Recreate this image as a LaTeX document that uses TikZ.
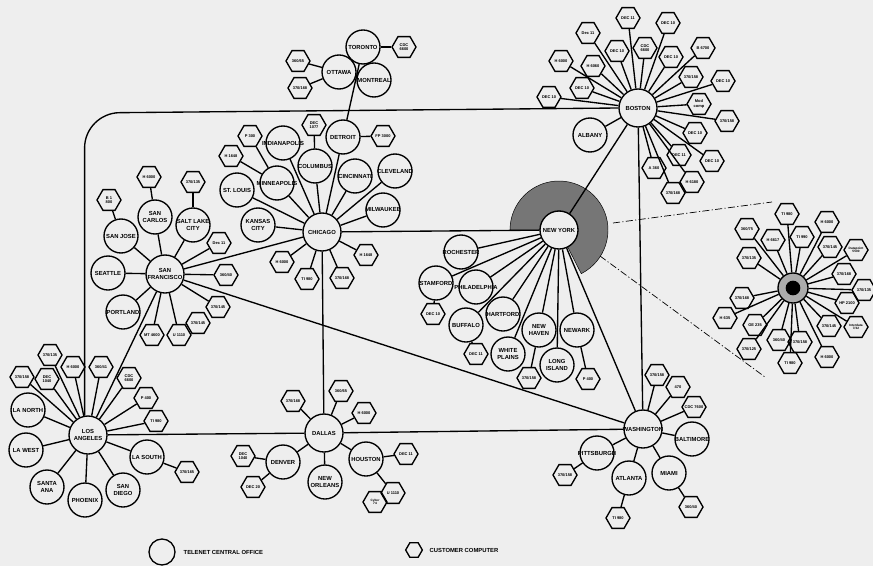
\documentclass[tikz,border=0pt]{standalone}
\usepackage{fontspec}
\setmainfont{Liberation Sans}
\usetikzlibrary{shapes.geometric}
\definecolor{paper}{RGB}{238,238,238}
\definecolor{shade}{RGB}{118,118,118}
\tikzset{
  ctext/.style={align=center, inner sep=0pt, font=\fontsize{5}{5.6}\selectfont\bfseries},
  ptext/.style={align=center, inner sep=0pt, font=\fontsize{3.4}{3.9}\selectfont\bfseries},
  city/.style={circle, draw, inner sep=0pt, minimum size=1.02cm, label={[ctext]center:{#1}}},
  hub/.style={city=#1, minimum size=1.14cm},
  hexshape/.style={regular polygon, regular polygon sides=6, draw, inner sep=0pt, minimum size=0.72cm},
  comp/.style={hexshape, label={[ptext]center:{#1}}},
  tinycomp/.style={hexshape, label={[ptext, font=\fontsize{2.7}{3.1}\selectfont\bfseries]center:{#1}}},
  dashdot/.style={dash pattern=on 6pt off 2pt on 1pt off 2pt, line width=0.6pt},
}

\begin{document}
\begin{tikzpicture}[x=0.03cm, y=-0.03cm, line width=1.15pt]
	\fill[paper] (0,0) rectangle (873,566);
	\useasboundingbox (0,0) rectangle (873,566);
	% shaded area round New York
	\filldraw[fill=shade, line width=0.4pt] ([shift={(63:19)}]559,230) -- ([shift={(63:49)}]559,230) arc[start angle=63, end angle=-180, radius=49] -- ([shift={(180:19)}]559,230) arc[start angle=-180, end angle=63, radius=19] -- cycle;
	% hubs
	\node[hub={CHICAGO}] (chi) at (322,232) {};
	\node[hub={SAN\\FRANCISCO}] (sf) at (165,274) {};
	\node[hub={LOS\\ANGELES}] (la) at (88,435) {};
	\node[hub={DALLAS}] (dal) at (324,433) {};
	\node[hub={NEW YORK}, fill=paper] (ny) at (559,230) {};
	\node[hub={BOSTON}] (bos) at (638,108) {};
	\node[hub={WASHINGTON}] (was) at (643,429) {};
	\node[circle, draw, fill=gray!65, minimum size=0.9cm, inner sep=0pt] (rc) at (793,288) {};
	\fill[black] (rc.center) circle (0.22cm);
	% central offices
	\node[city={TORONTO}] (tor) at (363,47) {};
	\node[city={OTTAWA}] (ott) at (339,72) {};
	\node[city={MONTREAL}] (mon) at (374,80) {};
	\node[city={DETROIT}] (det) at (343,137) {};
	\node[city={INDIANAPOLIS}] (ind) at (283,143) {};
	\node[city={COLUMBUS}] (col) at (315,166) {};
	\node[city={MINNEAPOLIS}] (min) at (277,183) {};
	\node[city={ST. LOUIS}] (stl) at (237,190) {};
	\node[city={KANSAS\\CITY}] (kc) at (258,225) {};
	\node[city={CINCINNATI}] (cin) at (355,176) {};
	\node[city={CLEVELAND}] (cle) at (395,171) {};
	\node[city={MILWAUKEE}] (mil) at (383,210) {};
	\node[city={SAN JOSE}] (sjo) at (121,236) {};
	\node[city={SAN\\CARLOS}] (sca) at (155,217) {};
	\node[city={SALT LAKE\\CITY}] (slc) at (193,225) {};
	\node[city={SEATTLE}] (sea) at (108,273) {};
	\node[city={PORTLAND}] (por) at (123,312) {};
	\node[city={LA NORTH}] (lan) at (28,410) {};
	\node[city={LA WEST}] (law) at (26,450) {};
	\node[city={SANTA\\ANA}] (san) at (47,487) {};
	\node[city={PHOENIX}] (pho) at (85,500) {};
	\node[city={SAN\\DIEGO}] (sdi) at (123,490) {};
	\node[city={LA SOUTH}] (las) at (147,457) {};
	\node[city={DENVER}] (den) at (283,462) {};
	\node[city={NEW\\ORLEANS}] (nor) at (325,482) {};
	\node[city={HOUSTON}] (hou) at (366,459) {};
	\node[city={ROCHESTER}] (roc) at (461,252) {};
	\node[city={STAMFORD}] (sta) at (436,283) {};
	\node[city={PHILADELPHIA}] (phi) at (476,287) {};
	\node[city={BUFFALO}] (buf) at (466,325) {};
	\node[city={HARTFORD}] (har) at (503,314) {};
	\node[city={NEW\\HAVEN}] (nha) at (539,330) {};
	\node[city={NEWARK}] (nwk) at (577,330) {};
	\node[city={WHITE\\PLAINS}] (wpl) at (508,354) {};
	\node[city={LONG\\ISLAND}] (lis) at (557,365) {};
	\node[city={ALBANY}] (alb) at (590,135) {};
	\node[city={BALTIMORE}] (bal) at (692,439) {};
	\node[city={MIAMI}] (mia) at (669,473) {};
	\node[city={ATLANTA}] (atl) at (629,478) {};
	\node[city={PITTSBURGH}] (pit) at (597,453) {};
	% backbone
	\coordinate (nw) at (85,113);
	\draw[rounded corners=1.05cm] (la.100) -- (la.100 |- nw) -- (bos.west);
	\draw (chi) -- (ny);
	\draw (chi) -- (dal);
	\draw (chi) -- (sf);
	\draw (sf) -- (la);
	\draw (sf) -- (was);
	\draw (la) -- (dal);
	\draw (dal) -- (was);
	\draw (ny) -- (bos);
	\draw (ny) -- (was);
	\draw (bos) -- (was);
	\draw (det) -- (tor);
	% city spokes
	\foreach \a/\b in {tor/ott, tor/mon, chi/ind, chi/col, chi/min, chi/stl, chi/kc, chi/cin, chi/cle, chi/mil, chi/det,
		sf/sea, sf/sjo, sf/sca, sf/slc, sf/por, la/lan, la/law, la/san, la/pho, la/sdi, la/las, dal/den, dal/nor, dal/hou,
		ny/roc, ny/sta, ny/phi, ny/buf, ny/har, ny/nha, ny/nwk, ny/wpl, ny/lis, was/bal, was/mia, was/atl, was/pit, bos/alb}
		{ \draw (\a) -- (\b); }
	% customer computers
	\foreach \x/\y/\t/\h [count=\i] in {
		404/47/{CDC\\6600}/tor, 298/61/{360/65}/ott, 300/88/{370/168}/ott, 383/136/{FP 3000}/det,
		314/125/{DEC\\1077}/col, 250/136/{P 300}/min, 231/156/{H 1648}/min,
		282/262/{H 6000}/chi, 307/279/{TI 980}/chi, 342/278/{370/168}/chi, 366/255/{H 1648}/chi,
		149/177/{H 6000}/sca, 109/200/{B 1\\800}/sjo, 193/182/{370/135}/slc,
		219/243/{Dec 11}/sf, 226/275/{360/40}/sf, 218/307/{370/145}/sf, 152/335/{MT 4600}/sf,
		22/377/{370/158}/la, 50/355/{370/135}/la, 47/379/{DEC\\1040}/la, 73/367/{H 6000}/la,
		101/367/{360/41}/la, 129/378/{CDC\\6600}/la, 146/398/{P 400}/la, 156/421/{TI 980}/la,
		187/472/{370/165}/las, 293/401/{370/168}/dal, 341/391/{360/65}/dal, 364/413/{H 6000}/dal,
		243/456/{DEC\\1040}/den, 253/487/{DEC 20}/den, 406/454/{DEC 11}/hou,
		657/375/{370/158}/was, 678/387/{470}/was, 694/407/{CDC 7600}/was,
		691/507/{360/40}/mia, 618/518/{TI 980}/atl, 565/475/{370/158}/pit,
		433/314/{DEC 10}/sta, 476/354/{DEC 11}/buf, 529/378/{370/158}/nha, 588/379/{P 400}/nwk,
		628/18/{DEC 11}/bos, 668/23/{DEC 10}/bos, 588/33/{Dec 11}/bos, 617/51/{DEC 10}/bos,
		645/48/{CDC\\6600}/bos, 671/57/{DEC 10}/bos, 703/48/{B 6700}/bos, 561/61/{H 6000}/bos,
		593/66/{H 6060}/bos, 691/77/{370/158}/bos, 723/81/{DEC 10}/bos, 582/88/{DEC 10}/bos,
		549/97/{DEC 10}/bos, 699/104/{Mod\\comp}/bos, 727/121/{370/158}/bos, 695/133/{DEC 10}/bos,
		679/155/{DEC 11}/bos, 712/161/{DEC 10}/bos, 654/168/{A 360}/bos, 692/182/{H 6180}/bos,
		673/193/{370/168}/bos,
		787/214/{TI 980}/rc, 827/222/{H 6000}/rc, 747/229/{360/75}/rc, 773/240/{H 6617}/rc,
		802/237/{TI 990}/rc, 830/247/{370/145}/rc, 749/258/{370/135}/rc, 844/274/{370/168}/rc,
		864/290/{370/135}/rc, 742/298/{370/168}/rc, 847/303/{HP 2100}/rc, 725/318/{H 635}/rc,
		755/325/{GE 235}/rc, 829/326/{370/145}/rc, 749/349/{370/125}/rc, 779/340/{360/40}/rc,
		800/342/{370/158}/rc, 827/357/{H 6000}/rc, 790/363/{TI 980}/rc}
		{ \node[comp=\t] (c\i) at (\x,\y) {}; \draw (c\i) -- (\h); }
	\node[tinycomp={Datapoint\\5500}] (dp) at (856,250) {};
	\node[tinycomp={Interdata\\7/32}] (idt) at (856,327) {};
	\draw (dp) -- (rc);
	\draw (idt) -- (rc);
	\node[comp={U 1110}] (sfu) at (179,335) {};
	\node[comp={370/145}] (sfv) at (198,323) {};
	\draw (sfu) -- (sf);
	\node[comp={U 1110}] (hou1) at (393,493) {};
	\node[tinycomp={Cyber\\74}] (hou2) at (375,502) {};
	\draw (hou1) -- (hou);
	% lines out to the magnified part
	\coordinate (ringtop) at (613,223);
	\coordinate (ringbot) at (600,256);
	\coordinate (magtop) at (772,202);
	\coordinate (magbot) at (765,377);
	\draw[dashdot] (ringtop) -- (magtop);
	\draw[dashdot] (ringbot) -- (magbot);
	% key
	\node[circle, draw, minimum size=0.78cm] (keyco) at (162,552) {};
	\node[anchor=west, ctext] (keycot) at (183,552) {TELENET CENTRAL OFFICE};
	\node[hexshape, minimum size=0.5cm] (keycc) at (414,550) {};
	\node[anchor=west, ctext] (keycct) at (429,550) {CUSTOMER COMPUTER};
\end{tikzpicture}
\end{document}
